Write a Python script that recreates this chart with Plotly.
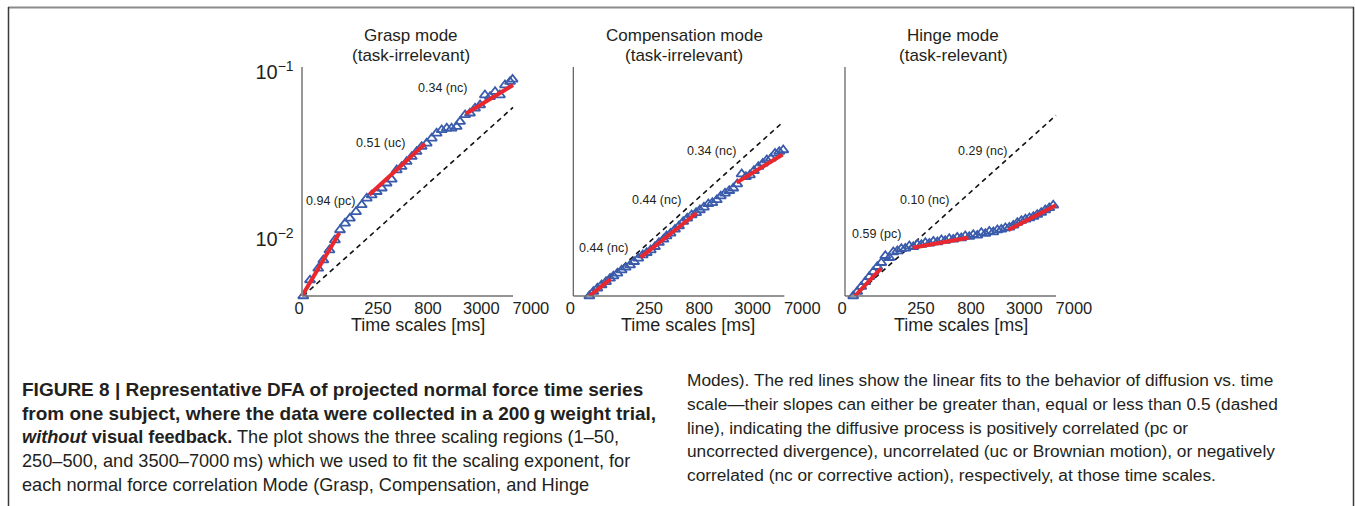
import numpy as np
import plotly.graph_objects as go

W, H = 1355, 506

# ---------------------------------------------------------------------------
# DFA fluctuation curves: position along the time-scale axis (0 = shortest
# window, 1 = longest) and log10 of the fluctuation function F(n)
# ---------------------------------------------------------------------------
grasp_pos = [0.006, 0.038, 0.077, 0.101, 0.130, 0.156, 0.180, 0.204, 0.227, 0.256,
             0.283, 0.307, 0.330, 0.354, 0.378, 0.401, 0.425, 0.449, 0.472, 0.496,
             0.520, 0.543, 0.567, 0.591, 0.615, 0.638, 0.662, 0.686, 0.709, 0.733,
             0.749, 0.773, 0.796, 0.820, 0.844, 0.867, 0.891, 0.915, 0.938, 0.962,
             0.986, 0.998]
grasp_logF = [-2.341, -2.246, -2.176, -2.126, -2.066, -2.006, -1.946, -1.906, -1.876, -1.837,
              -1.796, -1.756, -1.737, -1.717, -1.696, -1.666, -1.643, -1.587, -1.567, -1.537,
              -1.507, -1.477, -1.447, -1.427, -1.397, -1.367, -1.347, -1.337, -1.337, -1.327,
              -1.297, -1.257, -1.247, -1.217, -1.198, -1.138, -1.148, -1.118, -1.138, -1.078,
              -1.058, -1.044]

comp_pos = [0.076, 0.095, 0.114, 0.134, 0.155, 0.174, 0.190, 0.209, 0.229, 0.248,
            0.269, 0.288, 0.308, 0.329, 0.348, 0.367, 0.387, 0.406, 0.427, 0.442,
            0.461, 0.482, 0.501, 0.521, 0.540, 0.561, 0.582, 0.600, 0.619, 0.640,
            0.659, 0.680, 0.699, 0.719, 0.739, 0.758, 0.777, 0.798, 0.818, 0.837,
            0.856, 0.877, 0.898, 0.917, 0.936, 0.956, 0.976, 0.995]
comp_logF = [-2.341, -2.315, -2.295, -2.275, -2.256, -2.236, -2.222, -2.205, -2.186, -2.170,
             -2.156, -2.136, -2.116, -2.096, -2.082, -2.066, -2.046, -2.022, -2.002, -1.982,
             -1.966, -1.942, -1.922, -1.896, -1.876, -1.856, -1.843, -1.826, -1.810, -1.790,
             -1.783, -1.766, -1.743, -1.726, -1.711, -1.696, -1.671, -1.611, -1.627, -1.617,
             -1.591, -1.567, -1.547, -1.527, -1.517, -1.487, -1.477, -1.467]

hinge_pos = [0.039, 0.058, 0.077, 0.096, 0.115, 0.134, 0.153, 0.172, 0.191, 0.210,
             0.229, 0.248, 0.267, 0.286, 0.305, 0.324, 0.343, 0.362, 0.381, 0.400,
             0.419, 0.438, 0.457, 0.475, 0.494, 0.513, 0.532, 0.551, 0.570, 0.589,
             0.608, 0.627, 0.646, 0.665, 0.684, 0.703, 0.722, 0.741, 0.760, 0.779,
             0.798, 0.817, 0.836, 0.855, 0.874, 0.893, 0.911, 0.930, 0.949, 0.968,
             0.987]
hinge_logF = [-2.341, -2.315, -2.285, -2.256, -2.226, -2.196, -2.166, -2.142, -2.100, -2.112,
              -2.078, -2.072, -2.058, -2.056, -2.042, -2.046, -2.032, -2.034, -2.022, -2.026,
              -2.014, -2.018, -2.006, -2.010, -1.998, -2.002, -1.990, -1.994, -1.982, -1.986,
              -1.974, -1.978, -1.962, -1.968, -1.954, -1.958, -1.946, -1.942, -1.934, -1.930,
              -1.918, -1.902, -1.890, -1.882, -1.874, -1.866, -1.854, -1.842, -1.826, -1.814,
              -1.798]

# x-axis tick labels (time scales in ms) and where they sit on the scale axis
tick_pos = [-0.014, 0.36, 0.597, 0.85, 1.085]
tick_text = ["0", "250", "800", "3000", "7000"]

# Linear fits in the three scaling regions: start/end on the scale axis,
# log10 F at the start, fitted exponent and correlation class
grasp_fit_x = [(0.0, 0.177), (0.319, 0.583), (0.777, 1.0)]
grasp_fit_start = [-2.341, -1.735, -1.250]
grasp_slopes = [0.94, 0.51, 0.34]
grasp_class = ["pc", "uc", "nc"]

comp_fit_x = [(0.076, 0.177), (0.319, 0.585), (0.774, 0.992)]
comp_fit_start = [-2.341, -2.110, -1.662]
comp_slopes = [0.44, 0.44, 0.34]
comp_class = ["nc", "nc", "nc"]

hinge_fit_x = [(0.047, 0.171), (0.321, 0.585), (0.774, 1.0)]
hinge_fit_start = [-2.341, -2.052, -1.946]
hinge_slopes = [0.59, 0.10, 0.29]
hinge_class = ["pc", "nc", "nc"]

# Reference line of slope 0.5 (uncorrelated diffusion)
ref_slope = 0.5
grasp_ref_x, comp_ref_x, hinge_ref_x = (0.005, 1.0), (0.076, 0.992), (0.047, 1.0)
ref_start = -2.341

# decades of time scale spanned by one unit of the scale axis
DECADES_PER_UNIT = 2.27

# ---------------------------------------------------------------------------
# Layout helpers (pixel geometry)
# ---------------------------------------------------------------------------
AXIS_PX = 211
ORIGINS = [302, 573.3, 845]
X_RANGE = [-0.035, 1.12]
Y_RANGE = [-2.341, -0.970]
Y_TOP_PX, Y_BOT_PX = 67, 296

# text positions in the panels (scale-axis position, log10 F)
label_xy = [
    [(0.133, -1.772), (0.370, -1.427), (0.667, -1.098)],
    [(0.142, -2.052), (0.395, -1.766), (0.656, -1.473)],
    [(0.150, -1.972), (0.379, -1.766), (0.651, -1.471)],
]

TEXT = "#231f20"
BLUE = "#3a5bab"
RED = "#e8282e"
FONT = "Liberation Sans, Arial, sans-serif"

panels = [
    dict(title=("Grasp mode", "(task-irrelevant)"), pos=grasp_pos, logF=grasp_logF,
         fit_x=grasp_fit_x, fit_start=grasp_fit_start, slopes=grasp_slopes,
         cls=grasp_class, ref_x=grasp_ref_x),
    dict(title=("Compensation mode", "(task-irrelevant)"), pos=comp_pos, logF=comp_logF,
         fit_x=comp_fit_x, fit_start=comp_fit_start, slopes=comp_slopes,
         cls=comp_class, ref_x=comp_ref_x),
    dict(title=("Hinge mode", "(task-relevant)"), pos=hinge_pos, logF=hinge_logF,
         fit_x=hinge_fit_x, fit_start=hinge_fit_start, slopes=hinge_slopes,
         cls=hinge_class, ref_x=hinge_ref_x),
]

fig = go.Figure()
annotations = []
shapes = []


def px_x(px):
    return px / W


def px_y(py):
    return 1 - py / H


for k, p in enumerate(panels):
    sfx = "" if k == 0 else str(k + 1)
    xa, ya = "x" + sfx, "y" + sfx
    ox = ORIGINS[k]

    # dashed reference line, slope 0.5
    rx0, rx1 = p["ref_x"]
    ry1 = ref_start + ref_slope * DECADES_PER_UNIT * (rx1 - rx0)
    fig.add_trace(go.Scatter(
        x=[rx0, rx1], y=[10 ** ref_start, 10 ** ry1], mode="lines",
        line=dict(color="#111111", width=1.6, dash="5px,4px"),
        xaxis=xa, yaxis=ya, showlegend=False, hoverinfo="skip", cliponaxis=False))

    # DFA curve
    fig.add_trace(go.Scatter(
        x=p["pos"], y=10 ** np.array(p["logF"]), mode="markers",
        marker=dict(symbol="triangle-up-open", size=9, color=BLUE,
                    line=dict(color=BLUE, width=1.8)),
        xaxis=xa, yaxis=ya, showlegend=False, cliponaxis=False))

    # fitted segments drawn from their exponents
    for (fx0, fx1), fy0, s in zip(p["fit_x"], p["fit_start"], p["slopes"]):
        fy1 = fy0 + s * DECADES_PER_UNIT * (fx1 - fx0)
        fig.add_trace(go.Scatter(
            x=[fx0, fx1], y=[10 ** fy0, 10 ** fy1], mode="lines",
            line=dict(color=RED, width=4),
            xaxis=xa, yaxis=ya, showlegend=False, hoverinfo="skip", cliponaxis=False))

    # exponent labels
    for (lx, ly), s, c in zip(label_xy[k], p["slopes"], p["cls"]):
        annotations.append(dict(
            x=lx, y=ly, xref=xa, yref=ya, text=f"{s:.2f} ({c})", showarrow=False,
            font=dict(family=FONT, size=12.5, color=TEXT), xanchor="center", yanchor="middle"))

    dom = [px_x(ox + X_RANGE[0] * AXIS_PX), px_x(ox + X_RANGE[1] * AXIS_PX)]
    xaxis = dict(domain=dom, range=X_RANGE, showgrid=False, zeroline=False, showline=False,
                 tickmode="array", tickvals=tick_pos, ticktext=tick_text, ticks="",
                 tickfont=dict(family=FONT, size=16.5, color=TEXT), anchor=ya,
                 fixedrange=True, automargin=False)
    yaxis = dict(domain=[px_y(Y_BOT_PX), px_y(Y_TOP_PX)], type="log", range=Y_RANGE,
                 showgrid=False, zeroline=False, showline=False, ticks="",
                 anchor=xa, fixedrange=True, automargin=False)
    if k == 0:
        yaxis.update(tickmode="array", tickvals=[0.01, 0.1],
                     ticktext=["10<sup>\u22122</sup>", "10<sup>\u22121</sup>"],
                     tickfont=dict(family=FONT, size=20, color=TEXT))
    else:
        yaxis.update(showticklabels=False)
    fig.update_layout(**{"xaxis" + sfx: xaxis, "yaxis" + sfx: yaxis})

    # axis lines
    axis_col = "#8c8c8c" if k == 0 else "#5a5a5a"
    axis_w = 1.8 if k == 0 else 1.2
    shapes.append(dict(type="line", xref=xa, yref=ya + " domain", x0=0, x1=1, y0=0, y1=0,
                       line=dict(color="#707070", width=1.3)))
    shapes.append(dict(type="line", xref=xa, yref=ya + " domain", x0=0, x1=0, y0=0, y1=1,
                       line=dict(color=axis_col, width=axis_w)))

    # panel titles and x-axis title
    cx = [411, 684, 953][k]
    annotations.append(dict(x=px_x(cx), y=px_y(35), xref="paper", yref="paper",
                            text=p["title"][0], showarrow=False, xanchor="center", yanchor="middle",
                            font=dict(family=FONT, size=17, color=TEXT)))
    annotations.append(dict(x=px_x(cx), y=px_y(55), xref="paper", yref="paper",
                            text=p["title"][1], showarrow=False, xanchor="center", yanchor="middle",
                            font=dict(family=FONT, size=17, color=TEXT)))
    tx = [418, 688, 961][k]
    annotations.append(dict(x=px_x(tx), y=px_y(325), xref="paper", yref="paper",
                            text="Time scales [ms]", showarrow=False, xanchor="center",
                            yanchor="middle", font=dict(family=FONT, size=18, color=TEXT)))

# ---------------------------------------------------------------------------
# Caption
# ---------------------------------------------------------------------------
caption_left = [
    "<b>FIGURE 8 | Representative DFA of projected normal force time series</b>",
    "<b>from one subject, where the data were collected in a 200\u2009g weight trial,</b>",
    "<b><i>without</i> visual feedback.</b> The plot shows the three scaling regions (1\u201350,",
    "250\u2013500, and 3500\u20137000\u2009ms) which we used to fit the scaling exponent, for",
    "each normal force correlation Mode (Grasp, Compensation, and Hinge",
]
caption_left_size = [19, 19, 18.2, 18.2, 18.2]
caption_right = [
    "Modes). The red lines show the linear fits to the behavior of diffusion vs. time",
    "scale\u2014their slopes can either be greater than, equal or less than 0.5 (dashed",
    "line), indicating the diffusive process is positively correlated (pc or",
    "uncorrected divergence), uncorrelated (uc or Brownian motion), or negatively",
    "correlated (nc or corrective action), respectively, at those time scales.",
]
for i, line in enumerate(caption_left):
    annotations.append(dict(x=px_x(20), y=px_y(389 + 24 * i), xref="paper", yref="paper",
                            text=line, showarrow=False, xanchor="left", yanchor="middle",
                            font=dict(family=FONT, size=caption_left_size[i], color=TEXT)))
for i, line in enumerate(caption_right):
    annotations.append(dict(x=px_x(685), y=px_y(380 + 23.8 * i), xref="paper", yref="paper",
                            text=line, showarrow=False, xanchor="left", yanchor="middle",
                            font=dict(family=FONT, size=17.3, color=TEXT)))

# page frame
shapes += [
    dict(type="line", xref="paper", yref="paper", x0=px_x(8), x1=px_x(1354),
         y0=px_y(7.5), y1=px_y(7.5), line=dict(color="#8a8a8a", width=2)),
    dict(type="line", xref="paper", yref="paper", x0=px_x(8.5), x1=px_x(8.5),
         y0=px_y(7), y1=0, line=dict(color="#3a3a3a", width=1.5)),
    dict(type="line", xref="paper", yref="paper", x0=px_x(1353.5), x1=px_x(1353.5),
         y0=px_y(7), y1=0, line=dict(color="#3a3a3a", width=1.5)),
]

fig.update_layout(
    width=W, height=H, autosize=False,
    margin=dict(l=0, r=0, t=0, b=0, pad=0),
    paper_bgcolor="white", plot_bgcolor="white",
    annotations=annotations, shapes=shapes,
    font=dict(family=FONT, color=TEXT),
)

fig.write_html(
    "out.html",
    config={"displayModeBar": False},
    post_script="document.body.style.margin='0px'; document.body.style.overflow='hidden';",
)
